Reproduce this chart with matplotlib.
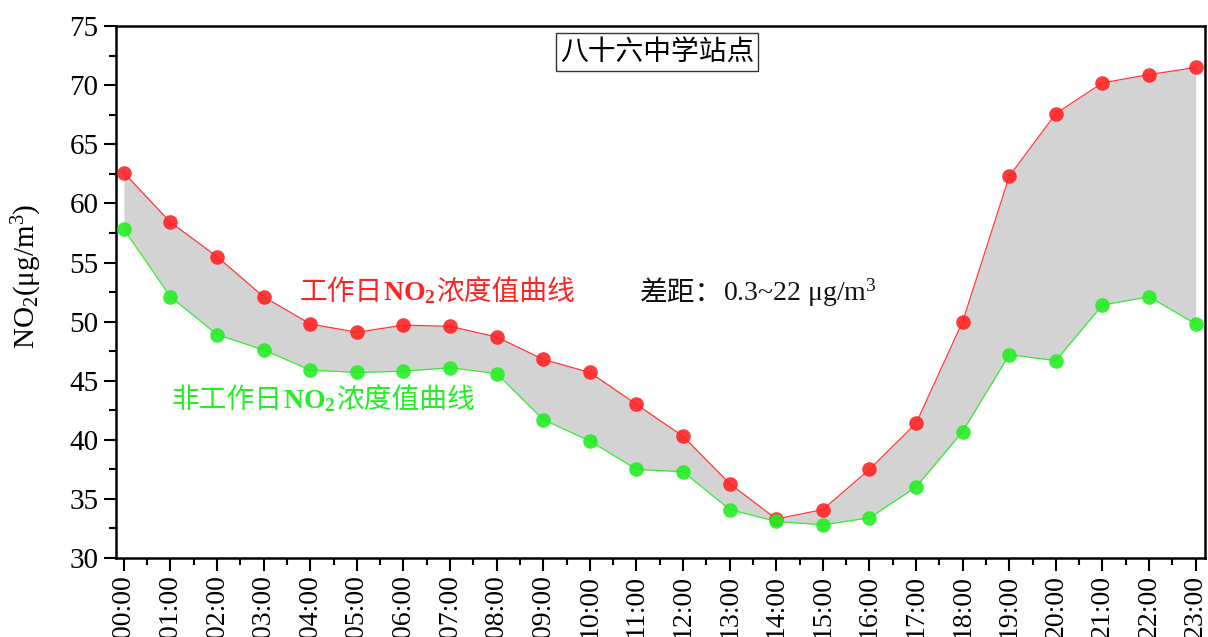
import matplotlib

matplotlib.use("Agg")
import matplotlib.pyplot as plt
from matplotlib.offsetbox import AnnotationBbox, HPacker, TextArea
from matplotlib.ticker import MultipleLocator

plt.rcParams["font.family"] = ["Liberation Serif", "Noto Sans CJK SC"]
plt.rcParams["mathtext.fontset"] = "custom"
plt.rcParams["mathtext.rm"] = "Liberation Serif"
plt.rcParams["mathtext.it"] = "Liberation Serif:italic"
plt.rcParams["mathtext.bf"] = "Liberation Serif:bold"
plt.rcParams["mathtext.default"] = "regular"

# hourly NO2 means, working days vs non-working days
hours = [f"{h:02d}:00" for h in range(24)]
workday = [62.6, 58.4, 55.5, 52.1, 49.8, 49.1, 49.7, 49.6, 48.7, 46.8, 45.7, 43.0,
           40.3, 36.3, 33.3, 34.1, 37.5, 41.4, 50.0, 62.3, 67.6, 70.2, 70.9, 71.5]
offday = [57.8, 52.1, 48.9, 47.6, 45.9, 45.7, 45.8, 46.1, 45.6, 41.7, 39.9, 37.5,
          37.3, 34.1, 33.1, 32.8, 33.4, 36.0, 40.7, 47.2, 46.7, 51.4, 52.1, 49.8]

station = "八十六中学站点"
gap_text = "差距："
gap_value = r"0.3~22 μg/m$^3$"

RED = "#ff2424"
GREEN = "#24ee24"
CJK = "Noto Sans CJK SC"
SERIF = "Liberation Serif"

fig = plt.figure(figsize=(12.08, 6.37), dpi=100)
ax = fig.add_axes([0.096, 0.124, 0.9015, 0.835])

x = list(range(len(hours)))
ax.fill_between(x, offday, workday, color="#d3d3d3", linewidth=0, zorder=1)
ax.plot(x, workday, color=RED, linewidth=0.9, marker="o", markersize=10.5,
        markeredgewidth=0, alpha=0.9, zorder=3)
ax.plot(x, offday, color=GREEN, linewidth=0.9, marker="o", markersize=10.5,
        markeredgewidth=0, alpha=0.9, zorder=3)

ax.set_xlim(-0.17, 23.2)
ax.set_ylim(30, 75)
ax.set_xticks(x)
ax.set_xticklabels(hours, rotation=90, fontsize=20, family=SERIF)
ax.xaxis.set_minor_locator(MultipleLocator(0.5))
ax.yaxis.set_major_locator(MultipleLocator(5))
ax.yaxis.set_minor_locator(MultipleLocator(2.5))
ax.tick_params(axis="y", labelsize=21)
ax.tick_params(which="major", direction="out", length=9, width=1.5)
ax.tick_params(which="minor", direction="out", length=5, width=1.5)
for spine in ax.spines.values():
    spine.set_linewidth(1.8)
ax.set_ylabel(r"NO$_2$(μg/m$^3$)", fontsize=21, family=SERIF)
ax.yaxis.set_label_coords(-0.066, 0.53)

ax.text(0.497, 0.951, station, transform=ax.transAxes, ha="center", va="center",
        fontsize=20, family=CJK,
        bbox=dict(boxstyle="square,pad=0.15", facecolor="white", edgecolor="#333333",
                  linewidth=1.0))


def mixed_label(parts, xy, fontsize=20):
    """Pack text pieces with different fonts into one label at data coords."""
    areas = []
    for text, props in parts:
        areas.append(TextArea(text, textprops=dict(fontsize=fontsize, **props)))
    pack = HPacker(children=areas, align="baseline", pad=0, sep=0)
    ab = AnnotationBbox(pack, xy, xycoords="data", box_alignment=(0, 0.5),
                        frameon=False, zorder=5)
    ax.add_artist(ab)


mixed_label([("工作日", dict(family=CJK, color=RED)),
             (r"$\mathbf{NO_2}$", dict(family=SERIF, color=RED)),
             ("浓度值曲线", dict(family=CJK, color=RED))], (3.78, 52.5))
mixed_label([("非工作日", dict(family=CJK, color=GREEN)),
             (r"$\mathbf{NO_2}$", dict(family=SERIF, color=GREEN)),
             ("浓度值曲线", dict(family=CJK, color=GREEN))], (1.03, 43.4))
mixed_label([(gap_text, dict(family=CJK, color="#111111")),
             (gap_value, dict(family=SERIF, color="#111111"))], (11.07, 52.4))

fig.savefig("out.png", dpi=100)
plt.close(fig)
